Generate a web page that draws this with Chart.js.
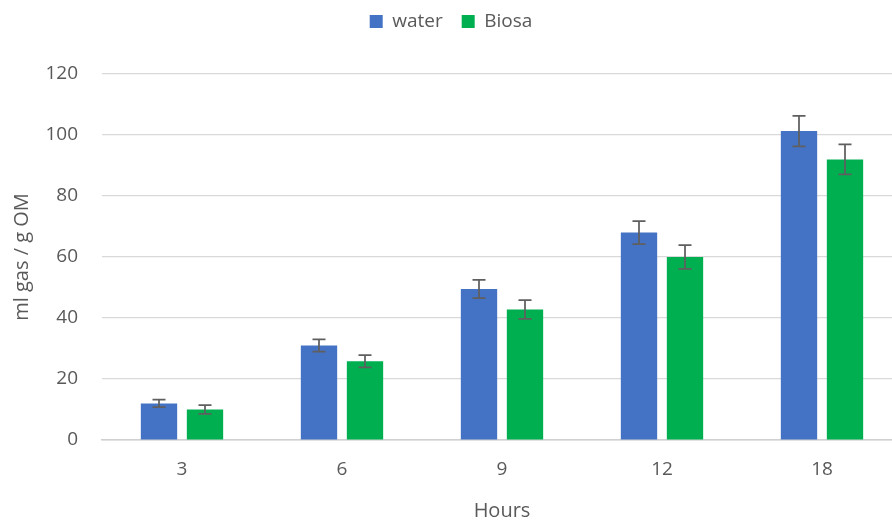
<!DOCTYPE html>
<html lang="en">
<head>
  <meta charset="UTF-8" />
  <title>Gas production - water vs Biosa</title>
  <script src="https://cdn.jsdelivr.net/npm/chart.js"></script>
  <style>
    html,body{margin:0;padding:0;background:#fff;overflow:hidden;}
    #wrap{width:902px;height:524px;}
  </style>
</head>
<body>
  <div id="wrap"><canvas id="gasChart" width="902" height="524"></canvas></div>

  <script>
    // data
    const hours      = ['3','6','9','12','18'];
    const waterVals  = [12, 31, 49.5, 68, 101.3];
    const waterErr   = [1.2, 2, 3, 3.8, 5];
    const biosaVals  = [10, 25.8, 42.8, 60, 92];
    const biosaErr   = [1.4, 2, 3.1, 3.9, 4.9];
    const yTicks     = [0, 20, 40, 60, 80, 100, 120];

    const txt='#595959';
    const font='"Open Sans", "Noto Sans", sans-serif';

    // push the plot down below the legend
    const legendSpace={
      id:'legendSpace',
      afterInit(chart){
        const lg=chart.legend;
        if(!lg||lg._patched) return;
        const fit=lg.fit;
        lg.fit=function(){fit.call(this);this.height=81;};
        lg._patched=true;
      }
    };

    // error bars drawn from the bar elements and the y scale
    const errorBars={
      id:'errorBars',
      afterDatasetsDraw(chart){
        const ctx=chart.ctx, y=chart.scales.y;
        chart.data.datasets.forEach((ds,i)=>{
          const meta=chart.getDatasetMeta(i);
          meta.data.forEach((bar,j)=>{
            const v=ds.data[j], e=ds.errors[j];
            const top=y.getPixelForValue(v+e), bot=y.getPixelForValue(v-e);
            ctx.save();
            ctx.strokeStyle='#5f5f5f';
            ctx.lineWidth=1.75;
            ctx.beginPath();
            ctx.moveTo(bar.x,top);ctx.lineTo(bar.x,bot);
            ctx.moveTo(bar.x-6.5,top);ctx.lineTo(bar.x+6.5,top);
            ctx.moveTo(bar.x-6.5,bot);ctx.lineTo(bar.x+6.5,bot);
            ctx.stroke();
            ctx.restore();
          });
        });
      }
    };

    new Chart(document.getElementById('gasChart'),{
      type:'bar',
      data:{
        labels:hours,
        datasets:[
          {label:'water',data:waterVals,errors:waterErr,backgroundColor:'#4472C4'},
          {label:'Biosa',data:biosaVals,errors:biosaErr,backgroundColor:'#00B050'}
        ]
      },
      options:{
        responsive:false,
        animation:false,
        layout:{padding:{top:-7,left:0,right:0,bottom:0}},
        datasets:{bar:{categoryPercentage:0.575,barPercentage:0.79}},
        plugins:{
          legend:{
            position:'top',
            labels:{boxWidth:13,boxHeight:13,padding:19,color:txt,font:{family:font,size:19}}
          },
          tooltip:{enabled:false}
        },
        scales:{
          x:{
            grid:{display:false,drawTicks:false},
            border:{display:true,color:'#d0d0d0',width:1.5},
            ticks:{color:txt,padding:18,font:{family:font,size:19}},
            title:{display:true,text:'Hours',color:txt,padding:{top:0,bottom:1},font:{family:font,size:20}},
            afterFit(s){s.height=84;}
          },
          y:{
            min:0,max:120,
            afterBuildTicks(s){s.ticks=yTicks.map(v=>({value:v}));},
            grid:{color:'#d9d9d9',lineWidth:1.25,drawTicks:false},
            border:{display:false},
            ticks:{color:txt,padding:24,font:{family:font,size:19}},
            title:{display:true,text:'ml gas / g OM',color:txt,padding:{top:10,bottom:0},font:{family:font,size:20}},
            afterFit(s){s.width=102;}
          }
        }
      },
      plugins:[legendSpace,errorBars]
    });
  </script>
</body>
</html>
